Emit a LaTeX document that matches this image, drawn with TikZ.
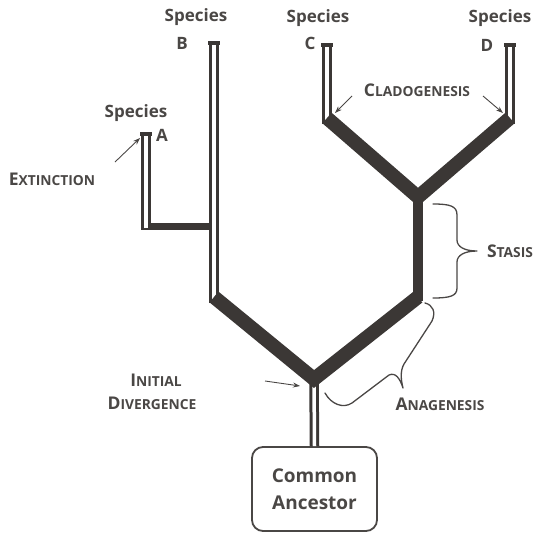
\documentclass[tikz,border=0pt]{standalone}
\usepackage{fontspec}
\setmainfont{Open Sans}
\usetikzlibrary{arrows.meta,calc}
\definecolor{branch}{HTML}{3B3735}
\definecolor{txt}{HTML}{4A4745}
\newcommand{\capsc}[2]{{\fontsize{17.5}{19}\selectfont #1}{\fontsize{13.8}{15}\selectfont #2}}
\begin{document}
\begin{tikzpicture}[x=1pt,y=-1pt,
  lbl/.style={text=txt,font=\bfseries\fontsize{17}{19}\selectfont,inner sep=0pt},
  sclbl/.style={text=txt,font=\bfseries,inner sep=0pt,align=center},
  dbl/.style={draw=branch,line width=3pt,double=white,double distance=3.5pt},
  capline/.style={draw=branch,line width=4pt},
  thick13/.style={draw=branch,line width=14pt,line join=miter,line cap=butt},
  stem/.style={draw=branch,line width=10.5pt},
  hbar/.style={draw=branch,line width=7pt},
  arw/.style={draw=txt,line width=0.9pt,-{Stealth[length=7pt,width=5pt]}},
  brc/.style={draw=txt,line width=1.3pt,line cap=round,line join=round},
  box/.style={draw=txt,line width=1.8pt,rounded corners=11pt,minimum width=125pt,minimum height=84pt,align=center,text=txt,font=\bfseries\fontsize{19}{27}\selectfont}]
\useasboundingbox (0,0) rectangle (546,544);
% coordinates
\coordinate (j1) at (314,379);
\coordinate (bB) at (214,297);
\coordinate (bS) at (418,297);
\coordinate (j2) at (418,197);
\coordinate (cC) at (327,118);
\coordinate (cD) at (510,118);
\coordinate (tC) at (327,45);
\coordinate (tD) at (510,45);
\coordinate (tB) at (214,43);
\coordinate (tA) at (146,134);
\coordinate (aH) at (146,226);
\coordinate (bH) at (214,226);
% common ancestor
\node[box] (anc) at (314.5,489) {Common\\Ancestor};
% A connector
\draw[hbar] ($(aH)+(-5,0)$) -- (bH);
% double lines
\draw[dbl] (anc.north) -- (j1);
\draw[dbl] ($(bB)+(0,6)$) -- (tB);
\draw[dbl] ($(aH)+(0,2)$) -- (tA);
\draw[dbl] ($(cC)+(0,6)$) -- (tC);
\draw[dbl] ($(cD)+(0,6)$) -- (tD);
\draw[capline] ($(tB)+(-6,0)$) -- ($(tB)+(6,0)$);
\draw[capline] ($(tA)+(-6,0)$) -- ($(tA)+(6,0)$);
\draw[capline] ($(tC)+(-6,0)$) -- ($(tC)+(6,0)$);
\draw[capline] ($(tD)+(-6,0)$) -- ($(tD)+(6,0)$);
% thick branches
\draw[thick13] (bB) -- (j1) -- (bS);
\draw[stem] ($(bS)+(0,4)$) -- (j2);
\draw[thick13] (cC) -- (j2) -- (cD);
% labels
\node[lbl] (spB) at (196,17) {Species};
\node[lbl] (lB) at (182,43) {B};
\node[lbl] (spA) at (136,113) {Species};
\node[lbl] (lA) at (162,135) {A};
\node[lbl] (spC) at (318,18) {Species};
\node[lbl] (lC) at (310,43) {C};
\node[lbl] (spD) at (500,18) {Species};
\node[lbl] (lD) at (487,45) {D};
\node[sclbl] (clado) at (417,90) {\capsc{C}{LADOGENESIS}};
\node[sclbl] (ext) at (52,179) {\capsc{E}{XTINCTION}};
\node[sclbl] (init) at (156,380) {\capsc{I}{NITIAL}};
\node[sclbl] (div) at (152,403) {\capsc{D}{IVERGENCE}};
\node[sclbl] (ana) at (440,404) {\capsc{A}{NAGENESIS}};
\node[sclbl] (stasis) at (510,251) {\capsc{S}{TASIS}};
% arrows
\coordinate (eS) at (115,162); \coordinate (eE) at (140,138);
\coordinate (c1S) at (352,96); \coordinate (c1E) at (335,113);
\coordinate (c2S) at (483,96); \coordinate (c2E) at (503,113);
\coordinate (dS) at (265,381); \coordinate (dE) at (300,386);
\draw[arw] (eS) -- (eE);
\draw[arw] (c1S) -- (c1E);
\draw[arw] (c2S) -- (c2E);
\draw[arw] (dS) -- (dE);
% stasis brace
\draw[brc] (433,204) .. controls (450,204) and (457,206) .. (457,215) -- (457,240)
  .. controls (457,247) and (465,251) .. (477,251)
  .. controls (465,251) and (457,255) .. (457,262) -- (457,288)
  .. controls (457,296) and (450,298) .. (433,298);
% anagenesis brace
\draw[brc] (425,303) .. controls (433,305) and (436,312) .. (432,321) -- (404,364)
  .. controls (400,371) and (401,380) .. (403,388)
  .. controls (400,379) and (396,372) .. (389,375) -- (352,403)
  .. controls (343,409) and (331,404) .. (325,393);
\end{tikzpicture}
\end{document}
